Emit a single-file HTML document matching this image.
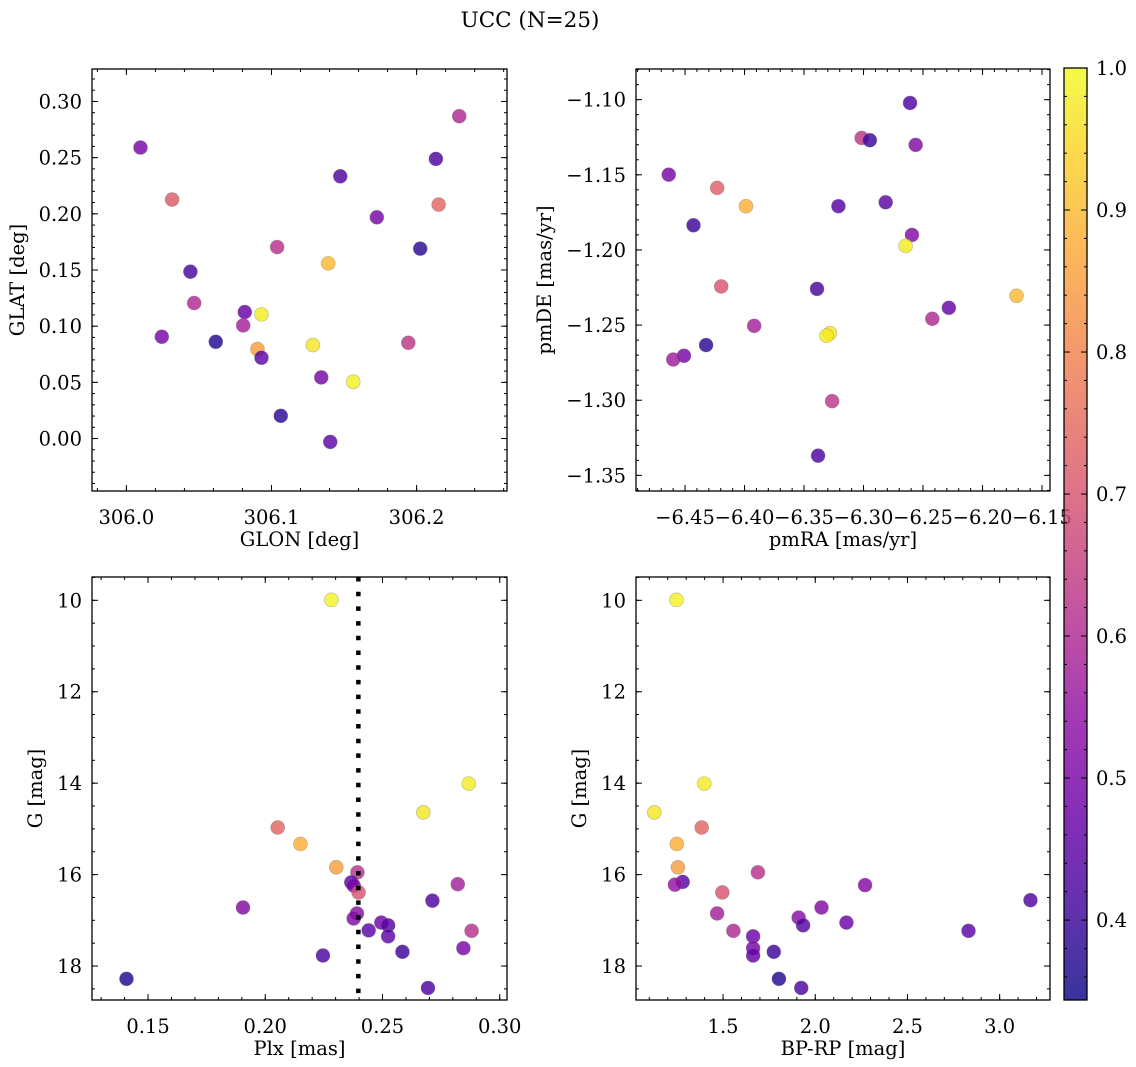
<!DOCTYPE html>
<html><head><meta charset="utf-8"><style>
html,body{margin:0;padding:0;background:#fff;}
svg{display:block;font-family:"DejaVu Serif","Liberation Serif",serif;}
</style></head><body>
<svg id="fig" width="1136" height="1067" viewBox="0 0 1136 1067" xmlns="http://www.w3.org/2000/svg">
<text x="530" y="27" font-size="21.5" text-anchor="middle">UCC (N=25)</text>
</svg>
<script>
// Panel 1: GLON / GLAT
const glon = [306.0097,306.0315,306.0441,306.0467,306.0244,306.0616,306.0816,306.0805,306.0931,306.0903,306.0931,306.1039,306.1064,306.1285,306.1343,306.1391,306.1405,306.1474,306.1563,306.1726,306.1943,306.2025,306.2133,306.2152,306.2294];
const glat = [0.259,0.2127,0.1485,0.1206,0.0906,0.0861,0.1126,0.1007,0.1105,0.0796,0.0719,0.1704,0.0202,0.0832,0.0544,0.1559,-0.003,0.2334,0.0505,0.1969,0.0852,0.169,0.2489,0.2082,0.2869];
const prob1 = [0.5,0.72,0.42,0.6,0.5,0.37,0.47,0.58,0.98,0.85,0.45,0.62,0.38,0.97,0.5,0.9,0.45,0.43,0.99,0.5,0.63,0.38,0.43,0.74,0.6];
// Panel 2: pmRA / pmDE
const pmra = [-6.4637,-6.423,-6.3988,-6.4429,-6.4196,-6.3919,-6.4323,-6.4509,-6.4599,-6.3391,-6.3283,-6.3311,-6.3264,-6.3382,-6.3211,-6.3016,-6.2947,-6.2814,-6.2609,-6.2562,-6.2593,-6.2646,-6.2422,-6.2283,-6.1714];
const pmde = [-1.1499,-1.1587,-1.1709,-1.1836,-1.2243,-1.2505,-1.2633,-1.2704,-1.2729,-1.2259,-1.2554,-1.2571,-1.3006,-1.3369,-1.1709,-1.1255,-1.127,-1.1683,-1.1022,-1.1301,-1.19,-1.1973,-1.2458,-1.2385,-1.2305];
const prob2 = [0.5,0.73,0.88,0.4,0.7,0.58,0.38,0.5,0.57,0.42,0.97,0.98,0.63,0.43,0.44,0.63,0.4,0.45,0.43,0.52,0.52,0.98,0.6,0.47,0.9];
// Panel 3: Plx / G
const plx = [0.2282,0.2868,0.2674,0.2053,0.215,0.2303,0.2393,0.2367,0.2377,0.2398,0.2821,0.2713,0.1905,0.2391,0.2377,0.2495,0.2524,0.2441,0.2524,0.288,0.2845,0.2246,0.2585,0.1408,0.2694];
const gmag3 = [9.99,14.01,14.64,14.97,15.33,15.84,15.95,16.17,16.24,16.39,16.21,16.57,16.72,16.85,16.96,17.05,17.11,17.22,17.35,17.23,17.61,17.77,17.69,18.28,18.48];
const prob3 = [0.99,0.98,0.97,0.74,0.88,0.85,0.62,0.45,0.5,0.7,0.58,0.43,0.52,0.53,0.52,0.48,0.44,0.45,0.45,0.62,0.5,0.43,0.4,0.37,0.43];
const plxMedian = [0.2397];
// Panel 4: BP-RP / G
const bprp = [1.247,1.398,1.127,1.384,1.249,1.255,1.689,1.281,1.239,1.496,2.27,3.167,2.034,1.468,1.91,1.934,2.169,1.556,2.831,1.663,1.663,1.663,1.775,1.803,1.924];
const gmag4 = [9.99,14.01,14.64,14.97,15.33,15.84,15.95,16.16,16.22,16.39,16.23,16.56,16.72,16.85,16.94,17.11,17.05,17.23,17.23,17.35,17.61,17.77,17.69,18.28,18.48];
const prob4 = [0.99,0.98,0.97,0.74,0.88,0.85,0.62,0.45,0.55,0.7,0.52,0.43,0.52,0.58,0.53,0.44,0.48,0.6,0.45,0.48,0.5,0.46,0.4,0.37,0.43];
// Tick labels
const xt1 = ["306.0","306.1","306.2"], yt1 = ["0.00","0.05","0.10","0.15","0.20","0.25","0.30"];
const xt2 = ["−6.45","−6.40","−6.35","−6.30","−6.25","−6.20","−6.15"], yt2 = ["−1.35","−1.30","−1.25","−1.20","−1.15","−1.10"];
const xt3 = ["0.15","0.20","0.25","0.30"], yt34 = ["10","12","14","16","18"];
const xt4 = ["1.5","2.0","2.5","3.0"];
const cbt = ["0.4","0.5","0.6","0.7","0.8","0.9","1.0"];

const FS=19.5;
const NS="http://www.w3.org/2000/svg";
const svg=document.getElementById('fig');
function mk(tag,attrs,parent){const e=document.createElementNS(NS,tag);for(const k in attrs)e.setAttribute(k,attrs[k]);(parent||svg).appendChild(e);return e;}
const VMIN=0.3437,VMAX=1.0;
const stops=[[13,8,135],[65,4,157],[106,0,168],[143,13,164],[177,42,144],[204,71,120],[225,100,98],[242,132,75],[252,166,54],[252,206,37],[240,249,33]];
function plasma(t){t=Math.max(0,Math.min(1,t));const f=t*10,i=Math.min(9,Math.floor(f)),r=f-i;const a=stops[i],b=stops[i+1];return `rgb(${Math.round(a[0]+(b[0]-a[0])*r)},${Math.round(a[1]+(b[1]-a[1])*r)},${Math.round(a[2]+(b[2]-a[2])*r)})`;}
function cmap(p){return plasma((p-VMIN)/(VMAX-VMIN));}

function panel(o){
  const g=mk('g',{});
  
  
  const sx=v=>o.x0+(v-o.xmin)/(o.xmax-o.xmin)*(o.x1-o.x0);
  const sy=v=>o.inv? o.y0+(v-o.ymin)/(o.ymax-o.ymin)*(o.y1-o.y0) : o.y1-(v-o.ymin)/(o.ymax-o.ymin)*(o.y1-o.y0);
  const tg=mk('g',{stroke:'#000','stroke-width':1},g);
  function xt(v,len){const X=sx(v);if(X<o.x0-0.1||X>o.x1+0.1)return;mk('line',{x1:X,x2:X,y1:o.y1,y2:o.y1-len},tg);mk('line',{x1:X,x2:X,y1:o.y0,y2:o.y0+len},tg);}
  function yt(v,len){const Y=sy(v);if(Y<o.y0-0.1||Y>o.y1+0.1)return;mk('line',{x1:o.x0,x2:o.x0+len,y1:Y,y2:Y},tg);mk('line',{x1:o.x1,x2:o.x1-len,y1:Y,y2:Y},tg);}
  for(let k=Math.ceil(o.xmin/o.xminor);k*o.xminor<=o.xmax;k++)xt(k*o.xminor,3);
  for(let k=Math.ceil(o.ymin/o.yminor);k*o.yminor<=o.ymax;k++)yt(k*o.yminor,3);
  o.xlabels.forEach(s=>{const v=parseFloat(s.replace('−','-'));xt(v,6);
    const t=mk('text',{x:sx(v),y:o.y1+33,'font-size':FS,'text-anchor':'middle'},g);t.textContent=s;
    
    });
  o.ylabels.forEach(s=>{const v=parseFloat(s.replace('−','-'));yt(v,6);
    const t=mk('text',{x:o.x0-10,y:sy(v)+7,'font-size':FS,'text-anchor':'end'},g);t.textContent=s;
    
    });
  const xl=mk('text',{x:(o.x0+o.x1)/2,y:o.y1+55,'font-size':FS,'text-anchor':'middle'},g);xl.textContent=o.xtitle;
  
  
  const yl=mk('text',{x:0,y:0,'font-size':FS,'text-anchor':'middle',transform:`translate(${o.ylx},${(o.y0+o.y1)/2}) rotate(-90)`},g);yl.textContent=o.ytitle;
  
  
  o.xs.forEach((xv,i)=>{const c=mk('circle',{cx:sx(xv),cy:sy(o.ys[i]),r:7,fill:cmap(o.ps[i]),'fill-opacity':0.82,stroke:'#777','stroke-opacity':0.5,'stroke-width':0.6},g);
    
    });
  if(o.vline){o.vline.forEach(v=>{const l=mk('line',{x1:sx(v),x2:sx(v),y1:o.y0,y2:o.y1,stroke:'#000','stroke-width':4.5,'stroke-dasharray':'4.5 10.2'},g);
    
    });}
  const fr=mk('rect',{x:o.x0,y:o.y0,width:o.x1-o.x0,height:o.y1-o.y0,fill:'none',stroke:'#000','stroke-width':1.3},g);
  
  
}
panel({name:'glon-glat-panel',x0:92,x1:507,y0:69,y1:491,xmin:305.9763,xmax:306.2623,ymin:-0.0467,ymax:0.3289,xminor:0.02,yminor:0.01,
  xlabels:xt1,ylabels:yt1,xtitle:'GLON [deg]',ytitle:'GLAT [deg]',ylx:24,xs:glon,ys:glat,ps:prob1});
panel({name:'pm-panel',x0:636,x1:1050,y0:69,y1:491,xmin:-6.4912,xmax:-6.1433,ymin:-1.3604,ymax:-1.0796,xminor:0.01,yminor:0.01,
  xlabels:xt2,ylabels:yt2,xtitle:'pmRA [mas/yr]',ytitle:'pmDE [mas/yr]',ylx:551,xs:pmra,ys:pmde,ps:prob2});
panel({name:'plx-g-panel',x0:92,x1:507,y0:577,y1:1000,inv:true,xmin:0.1261,xmax:0.3031,ymin:9.49,ymax:18.743,xminor:0.01,yminor:0.5,
  xlabels:xt3,ylabels:yt34,xtitle:'Plx [mas]',ytitle:'G [mag]',ylx:42,xs:plx,ys:gmag3,ps:prob3,vline:plxMedian});
panel({name:'cmd-panel',x0:636,x1:1050,y0:577,y1:1000,inv:true,xmin:1.0279,xmax:3.273,ymin:9.49,ymax:18.743,xminor:0.1,yminor:0.5,
  xlabels:xt4,ylabels:yt34,xtitle:'BP-RP [mag]',ytitle:'G [mag]',ylx:586,xs:bprp,ys:gmag4,ps:prob4});

const cb=mk('g',{});


const CX0=1064,CX1=1087,CY0=68,CY1=1000;
const defs=mk('defs',{},cb);
const lg=mk('linearGradient',{id:'cbg',x1:0,y1:1,x2:0,y2:0},defs);
for(let i=0;i<=20;i++){mk('stop',{offset:i/20,'stop-color':plasma(i/20),'stop-opacity':0.82},lg);}
mk('rect',{x:CX0,y:CY0,width:CX1-CX0,height:CY1-CY0,fill:'url(#cbg)',stroke:'#000','stroke-width':1.3},cb);
const cy=v=>CY1-(v-VMIN)/(VMAX-VMIN)*(CY1-CY0);
for(let k=18;k<=50;k++){const v=k*0.02;if(v<VMIN||v>VMAX+1e-9)continue;const Y=cy(v);mk('line',{x1:CX0,x2:CX0+3,y1:Y,y2:Y,stroke:'#000'},cb);mk('line',{x1:CX1,x2:CX1-3,y1:Y,y2:Y,stroke:'#000'},cb);}
cbt.forEach(s=>{const v=parseFloat(s);const Y=cy(v);mk('line',{x1:CX0,x2:CX0+6,y1:Y,y2:Y,stroke:'#000'},cb);mk('line',{x1:CX1,x2:CX1-6,y1:Y,y2:Y,stroke:'#000'},cb);
  const t=mk('text',{x:CX1+9,y:Y+7,'font-size':FS},cb);t.textContent=s;
  
  });
</script>
</body></html>
